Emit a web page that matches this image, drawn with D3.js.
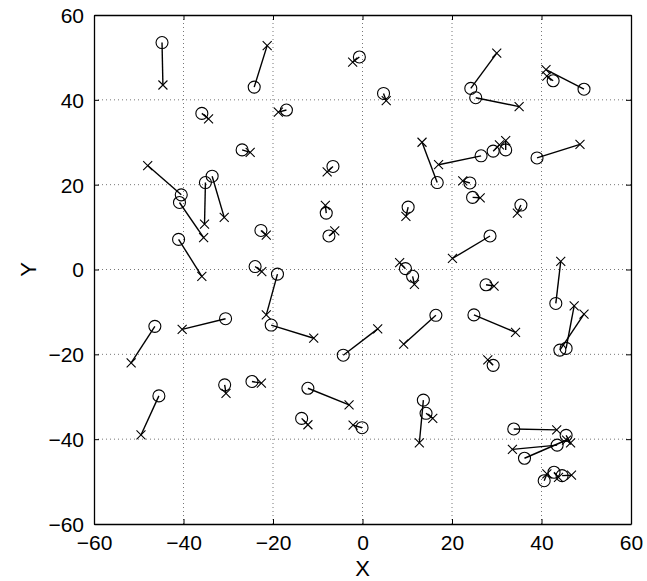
<!DOCTYPE html>
<html>
<head>
<meta charset="utf-8">
<script src="https://cdn.jsdelivr.net/npm/d3@7"></script>
<style>
  body { margin: 0; background: #fff; }
  text { font-family: "Liberation Sans", Arial, sans-serif; }
</style>
</head>
<body>
<div id="chart"></div>
<script>
// circle positions (o) and the matching cross positions (x)
var circleX = [-44.8,-24.2,-35.9,-26.9,-40.5,-40.9,-35.1,-33.6,-41.1,-22.7,-24.0,-19.0,-20.4,-30.6,-46.4,-45.5,-30.8,-24.7,-4.3,-12.2,-13.6,-0.1,13.6,14.2,16.4,-8.1,-7.5,10.2,9.6,11.2,16.7,26.5,-0.7,4.7,-17.0,-6.6,24.2,25.3,49.5,42.6,39.0,29.2,32.0,24.0,24.6,35.4,28.5,27.6,24.9,43.2,45.5,44.1,29.2,33.8,43.5,36.2,45.5,40.6,42.8,44.6];
var circleY = [53.5,43.0,36.8,28.2,17.6,15.8,20.5,22.0,7.1,9.2,0.7,-1.1,-13.1,-11.6,-13.4,-29.8,-27.2,-26.4,-20.2,-28.0,-35.1,-37.3,-30.8,-33.9,-10.8,13.3,7.9,14.7,0.2,-1.6,20.5,26.8,50.1,41.5,37.6,24.3,42.7,40.5,42.5,44.5,26.3,27.9,28.2,20.4,17.0,15.2,7.9,-3.6,-10.7,-8.0,-18.6,-19.0,-22.6,-37.6,-41.4,-44.5,-39.1,-49.8,-47.8,-48.6];
var crossX = [-44.6,-21.3,-34.4,-25.1,-48.0,-35.5,-35.3,-30.9,-35.9,-21.5,-22.5,-21.5,-10.9,-40.3,-51.7,-49.5,-30.5,-22.6,3.4,-3.0,-12.2,-2.1,12.7,15.7,9.2,-8.3,-6.2,9.7,8.3,11.6,13.3,17.0,-2.2,5.3,-18.8,-7.9,30.0,35.0,41.0,41.2,48.6,30.6,32.0,22.4,26.3,34.6,20.1,29.4,34.2,44.3,47.3,49.5,28.0,43.4,33.5,45.6,46.5,41.2,43.8,46.7];
var crossY = [43.5,52.8,35.5,27.6,24.5,7.5,10.7,12.3,-1.6,8.1,-0.5,-10.7,-16.2,-14.1,-22.0,-39.0,-29.2,-26.8,-14.0,-31.9,-36.6,-36.7,-40.9,-35.1,-17.6,15.1,9.1,12.5,1.6,-3.5,30.0,24.7,48.9,39.8,37.1,23.0,51.0,38.4,47.1,45.6,29.5,29.4,30.4,20.9,16.9,13.3,2.6,-3.9,-14.8,1.9,-8.6,-10.5,-21.3,-37.8,-42.4,-40.2,-40.9,-48.2,-49.0,-48.5];
var ticks = [-60, -40, -20, 0, 20, 40, 60];

var W = 647, H = 581;
var margin = {top: 15, right: 16, bottom: 57, left: 94};
var width = W - margin.left - margin.right;
var height = H - margin.top - margin.bottom;

var svg = d3.select("#chart").append("svg")
  .attr("width", W).attr("height", H)
  .append("g")
  .attr("transform", "translate(" + margin.left + "," + margin.top + ")");

var x = d3.scaleLinear().domain([-60, 60]).range([0, width]);
var y = d3.scaleLinear().domain([-60, 60]).range([height, 0]);

// dotted grid
svg.append("g").selectAll("line").data(ticks.slice(1, -1)).enter().append("line")
  .attr("x1", d => x(d)).attr("x2", d => x(d)).attr("y1", 0).attr("y2", height)
  .attr("stroke", "#777").attr("stroke-width", 1).attr("stroke-dasharray", "1,3");
svg.append("g").selectAll("line").data(ticks.slice(1, -1)).enter().append("line")
  .attr("y1", d => y(d)).attr("y2", d => y(d)).attr("x1", 0).attr("x2", width)
  .attr("stroke", "#777").attr("stroke-width", 1).attr("stroke-dasharray", "1,3");

// axes, ticks pointing inwards like matlab
var fmt = d => d < 0 ? "\u2212" + Math.abs(d) : d;
var xAxis = svg.append("g")
  .attr("transform", "translate(0," + height + ")")
  .call(d3.axisBottom(x).tickValues(ticks).tickSizeInner(-5).tickSizeOuter(0).tickPadding(11).tickFormat(fmt));
var yAxis = svg.append("g")
  .call(d3.axisLeft(y).tickValues(ticks).tickSizeInner(-5).tickSizeOuter(0).tickPadding(10).tickFormat(fmt));
svg.append("g")
  .call(d3.axisTop(x).tickValues(ticks).tickSizeInner(-5).tickSizeOuter(0).tickFormat(""));
svg.append("g")
  .attr("transform", "translate(" + width + ",0)")
  .call(d3.axisRight(y).tickValues(ticks).tickSizeInner(-5).tickSizeOuter(0).tickFormat(""));

svg.selectAll(".domain").attr("stroke", "#000").attr("stroke-width", 1.3);
svg.selectAll(".tick line").attr("stroke", "#000");
svg.selectAll(".tick text").attr("font-size", 21).attr("fill", "#000")
  .style("font-family", "'Liberation Sans', Arial, sans-serif");
xAxis.selectAll(".tick text").attr("dy", "0.71em");
yAxis.selectAll(".tick text").attr("dy", "0.35em");

// axis labels
svg.append("text").attr("x", width / 2).attr("y", height + 52)
  .attr("text-anchor", "middle").attr("font-size", 22).text("X");
svg.append("text").attr("transform", "translate(-58," + (height / 2) + ") rotate(-90)")
  .attr("text-anchor", "middle").attr("font-size", 22).text("Y");

// connecting lines
var idx = d3.range(circleX.length);
svg.append("g").selectAll("line").data(idx).enter().append("line")
  .attr("x1", i => x(circleX[i])).attr("y1", i => y(circleY[i]))
  .attr("x2", i => x(crossX[i])).attr("y2", i => y(crossY[i]))
  .attr("stroke", "#000").attr("stroke-width", 1.4);

// circles
svg.append("g").selectAll("circle").data(idx).enter().append("circle")
  .attr("cx", i => x(circleX[i])).attr("cy", i => y(circleY[i]))
  .attr("r", 6).attr("fill", "none").attr("stroke", "#000").attr("stroke-width", 1.1);

// crosses
var s = 4.5;
svg.append("g").selectAll("path").data(idx).enter().append("path")
  .attr("d", function(i) {
    var cx = x(crossX[i]), cy = y(crossY[i]);
    return "M" + (cx - s) + "," + (cy - s) + "L" + (cx + s) + "," + (cy + s) +
           "M" + (cx - s) + "," + (cy + s) + "L" + (cx + s) + "," + (cy - s);
  })
  .attr("stroke", "#000").attr("stroke-width", 1.1).attr("fill", "none");
</script>
</body>
</html>
